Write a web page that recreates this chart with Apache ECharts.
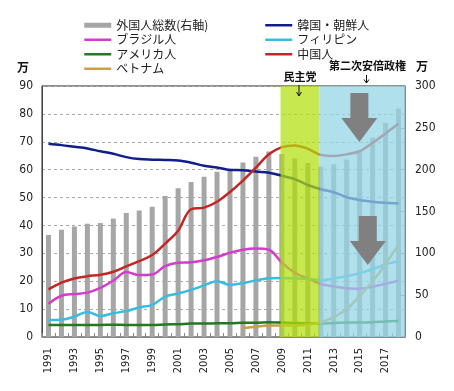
<!DOCTYPE html>
<html><head><meta charset="utf-8">
<script src="https://cdn.jsdelivr.net/npm/echarts@6/dist/echarts.min.js"></script>
<style>html,body{margin:0;padding:0;background:#fff}#c{width:454px;height:391px}</style>
</head><body><div id="c"></div>
<script>
// ---- data (万人) ----
const years = ['1991','1992','1993','1994','1995','1996','1997','1998','1999','2000','2001','2002','2003','2004','2005','2006','2007','2008','2009','2010','2011','2012','2013','2014','2015','2016','2017','2018'];
const leftTicks = [0,10,20,30,40,50,60,70,80,90];
const rightTicks = [0,50,100,150,200,250,300];
const totalForeign = [121.9,128.2,132.1,135.4,136.2,141.5,148.3,151.2,155.6,168.6,177.8,185.2,191.5,197.4,201.2,208.5,215.3,221.7,218.6,213.4,207.9,203.4,206.6,212.2,223.2,238.3,256.2,273.1];
const korea = [69.3,68.8,68.2,67.6,66.6,65.7,64.5,63.8,63.6,63.5,63.3,62.5,61.4,60.8,59.9,59.8,59.3,58.9,57.8,56.6,54.5,53.0,51.9,50.1,49.1,48.5,48.1,47.9];
const brazil = [11.9,14.8,15.4,15.9,17.6,20.2,23.3,22.2,22.4,25.4,26.6,26.8,27.5,28.7,30.2,31.3,31.7,31.3,26.7,23.0,21.0,19.0,18.1,17.5,17.3,18.0,19.1,20.1];
const philippines = [6.1,6.2,7.3,9.0,7.5,8.5,9.3,10.6,11.5,14.5,15.6,16.9,18.5,20.0,18.7,19.3,20.3,21.1,21.2,21.0,20.9,20.3,21.0,21.8,22.9,24.3,26.0,27.2];
const usa = [4.3,4.3,4.3,4.3,4.3,4.4,4.3,4.3,4.3,4.5,4.6,4.8,4.8,4.9,4.9,5.1,5.1,5.3,5.2,5.0,4.9,4.8,5.0,5.2,5.2,5.3,5.6,5.7];
const china = [17.1,19.5,21.0,21.8,22.3,23.4,25.3,27.2,29.4,33.5,38.1,45.8,46.4,48.5,52.0,56.1,60.7,65.5,68.1,68.7,67.5,65.3,64.9,65.5,66.6,69.6,73.0,76.5];
const vietnam = [null,null,null,null,null,null,null,null,null,null,null,null,null,null,null,3.2,3.7,4.1,4.1,4.2,4.5,5.2,7.2,10.0,14.7,20.0,26.2,33.1];
// political periods (year position on a continuous year scale)
const periodNames = ['民主党','第二次安倍政権'];
const periodStart = [2009.4, 2012.4];
const periodEnd = [2012.4, 2019];
// big down arrows (year position, top value, tip value on left axis)
const arrowYear = [2015.48, 2016.13];
const arrowTop = [87.5, 43.4];
const arrowTip = [69.9, 25.8];

const numFont = '"Liberation Sans Narrow","DejaVu Sans Condensed","Liberation Sans",sans-serif';
const jpFont = '"Noto Sans CJK JP",sans-serif';
const periodColors = ['rgba(179,223,12,0.72)','rgba(148,213,230,0.74)'];

const chart = echarts.init(document.getElementById('c'), null, {renderer:'canvas'});

function lineSeries(name, data, color){
  return {name, type:'line', data, xAxisIndex:0, yAxisIndex:0, symbol:'none', smooth:0.35,
    connectNulls:false, lineStyle:{width:2.5, color}, itemStyle:{color}, z:3};
}
function lineLegendItem(name){ return {name, itemStyle:{opacity:0}, lineStyle:{width:2.5}}; }

const legendText = {fontFamily:jpFont,fontSize:12,color:'#222',lineHeight:14.5};
const option = {
  animation:false,
  textStyle:{fontFamily:numFont},
  grid:{left:42,right:49,top:86,bottom:54,show:true,borderColor:'#222',borderWidth:1,backgroundColor:'transparent'},
  legend:[
    {left:83,top:18,padding:0,orient:'vertical',itemWidth:27,itemHeight:5,itemGap:0,textStyle:legendText,
     data:[{name:'外国人総数(右軸)',icon:'rect'},lineLegendItem('ブラジル人'),lineLegendItem('アメリカ人'),lineLegendItem('ベトナム')]},
    {left:264,top:18,padding:0,orient:'vertical',itemWidth:27,itemHeight:5,itemGap:0,textStyle:legendText,
     data:[lineLegendItem('韓国・朝鮮人'),lineLegendItem('フィリピン'),lineLegendItem('中国人')]}
  ],
  xAxis:[
    {type:'category',data:years,boundaryGap:true,
     axisLine:{lineStyle:{color:'#888'}},
     axisTick:{show:true,inside:true,length:4,interval:0,lineStyle:{color:'#888'}},
     axisLabel:{rotate:90,interval:1,fontSize:11,fontFamily:numFont,color:'#222',margin:11}},
    {type:'value',min:1991,max:2019,show:false}
  ],
  yAxis:[
    {type:'value',min:leftTicks[0],max:leftTicks[leftTicks.length-1],interval:10,position:'left',
     axisLine:{show:true,lineStyle:{color:'#444'}},axisTick:{show:false},
     splitLine:{show:true,lineStyle:{color:'#aaa',type:[3,3]}},
     axisLabel:{fontSize:12,fontFamily:numFont,color:'#222',margin:9}},
    {type:'value',min:rightTicks[0],max:rightTicks[rightTicks.length-1],interval:50,position:'right',
     axisLine:{show:true,lineStyle:{color:'#888'}},
     axisTick:{show:true,inside:true,length:4,lineStyle:{color:'#888'}},
     splitLine:{show:false},
     axisLabel:{fontSize:12,fontFamily:numFont,color:'#222',margin:10}}
  ],
  series:[
    {name:'外国人総数(右軸)',type:'bar',data:totalForeign,xAxisIndex:0,yAxisIndex:1,barWidth:5,
     itemStyle:{color:'#a6a6a6'},z:2},
    lineSeries('韓国・朝鮮人', korea, '#101e8c'),
    lineSeries('ブラジル人', brazil, '#d43ccc'),
    lineSeries('フィリピン', philippines, '#38bde0'),
    lineSeries('アメリカ人', usa, '#217a21'),
    lineSeries('中国人', china, '#c42626'),
    lineSeries('ベトナム', vietnam, '#c9a045'),
    {name:'periods',type:'custom',xAxisIndex:1,yAxisIndex:0,z:10,silent:true,
     data:periodStart.map((s,i)=>[s,periodEnd[i]]),
     encode:{x:[0,1]},
     renderItem:(params,api)=>{
       const p0 = api.coord([api.value(0), leftTicks[leftTicks.length-1]]);
       const p1 = api.coord([api.value(1), 0]);
       return {type:'rect',shape:{x:p0[0],y:p0[1],width:p1[0]-p0[0],height:p1[1]-p0[1]},
         style:{fill:periodColors[params.dataIndex]}};
     }},
    {name:'arrows',type:'custom',xAxisIndex:1,yAxisIndex:0,z:11,silent:true,
     data:arrowYear.map((y,i)=>[y,arrowTop[i],arrowTip[i]]),
     encode:{x:0,y:[1,2]},
     renderItem:(params,api)=>{
       const top = api.coord([api.value(0), api.value(1)]);
       const tip = api.coord([api.value(0), api.value(2)]);
       const cx = top[0], hw = 18, sw = 9, hl = 24, hy = tip[1]-hl;
       return {type:'polygon',shape:{points:[[cx-sw,top[1]],[cx+sw,top[1]],[cx+sw,hy],[cx+hw,hy],[cx,tip[1]],[cx-hw,hy],[cx-sw,hy]]},
         style:{fill:'#808080'}};
     }}
  ]
};
chart.setOption(option);

// annotation texts & small arrows
const gPeriod0 = chart.convertToPixel({xAxisIndex:1,yAxisIndex:0},[ (periodStart[0]+periodEnd[0])/2, 90]);
const gAbeX = 366.5;
const bold = {fontFamily:jpFont,fontWeight:'bold',fill:'#111'};
chart.setOption({graphic:[
  {type:'text',z:100,x:23,y:67,style:Object.assign({text:'万',fontSize:12,align:'center',verticalAlign:'middle'},bold)},
  {type:'text',z:100,x:422,y:66,style:Object.assign({text:'万',fontSize:12,align:'center',verticalAlign:'middle'},bold)},
  {type:'text',z:100,x:gPeriod0[0],y:77,style:Object.assign({text:periodNames[0],fontSize:11,align:'center',verticalAlign:'middle'},bold)},
  {type:'text',z:100,x:367.5,y:66,style:Object.assign({text:periodNames[1],fontSize:11,align:'center',verticalAlign:'middle'},bold)},
  {type:'line',z:100,shape:{x1:gPeriod0[0]-1,y1:85,x2:gPeriod0[0]-1,y2:96},style:{stroke:'#111',lineWidth:1}},
  {type:'polyline',z:100,shape:{points:[[gPeriod0[0]-3.5,92],[gPeriod0[0]-1,96],[gPeriod0[0]+1.5,92]]},style:{stroke:'#111',lineWidth:1,fill:null}},
  {type:'line',z:100,shape:{x1:gAbeX,y1:75,x2:gAbeX,y2:83},style:{stroke:'#111',lineWidth:1}},
  {type:'polyline',z:100,shape:{points:[[gAbeX-2.5,79.5],[gAbeX,83],[gAbeX+2.5,79.5]]},style:{stroke:'#111',lineWidth:1,fill:null}}
]});
</script>
</body></html>
